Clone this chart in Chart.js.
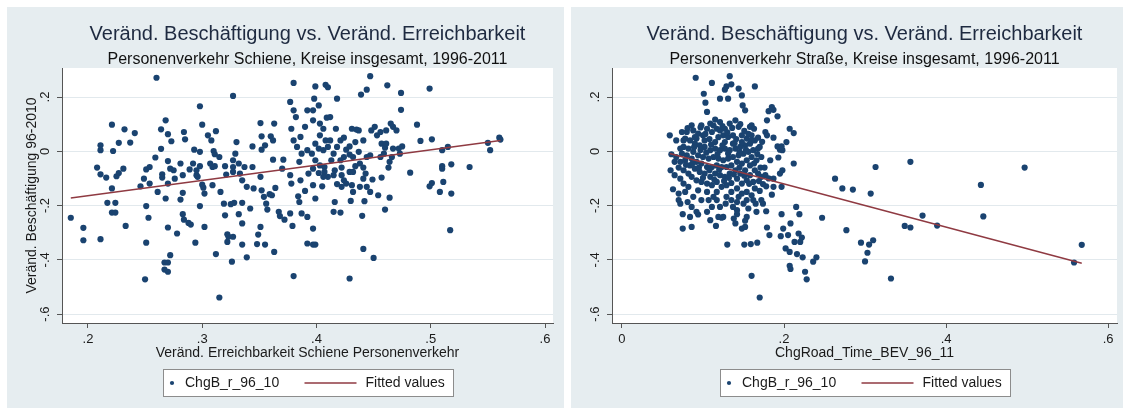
<!DOCTYPE html>
<html><head><meta charset="utf-8">
<script src="https://cdn.jsdelivr.net/npm/chart.js@4.4.1/dist/chart.umd.min.js"></script>
<style>
html,body{margin:0;padding:0;background:#fff;}
body{width:1123px;height:408px;position:relative;overflow:hidden;}
.panel{position:absolute;top:7px;height:401px;background:#e6edf0;}
#p1{left:7px;width:557px;}
#p2{left:571px;width:552px;}
canvas{display:block;}
</style></head><body>
<div class="panel" id="p1"><canvas id="c1" width="557" height="401"></canvas></div>
<div class="panel" id="p2"><canvas id="c2" width="552" height="401"></canvas></div>
<script>
const FONT = "'Liberation Sans', Arial, Helvetica, sans-serif";
const titleText = 'Veränd. Beschäftigung vs. Veränd. Erreichbarkeit';
const subtitleRail = 'Personenverkehr Schiene, Kreise insgesamt, 1996-2011';
const subtitleRoad = 'Personenverkehr Straße, Kreise insgesamt, 1996-2011';
const yTitle = 'Veränd. Beschäftigung 96-2010';
const xTitleRail = 'Veränd. Erreichbarkeit Schiene Personenverkehr';
const xTitleRoad = 'ChgRoad_Time_BEV_96_11';
const legendLabels = ['ChgB_r_96_10', 'Fitted values'];

const yTicks = [-0.6, -0.4, -0.2, 0, 0.2];
const yTickLabels = ['-.6', '-.4', '-.2', '0', '.2'];
const yRange = [-0.633, 0.307];
const xTicksRail = [0.2, 0.3, 0.4, 0.5, 0.6];
const xTickLabelsRail = ['.2', '.3', '.4', '.5', '.6'];
const xRangeRail = [0.1773, 0.607];
const xTicksRoad = [0, 0.2, 0.4, 0.6];
const xTickLabelsRoad = ['0', '.2', '.4', '.6'];
const xRangeRoad = [-0.0123, 0.611];

const railPoints = [
[0.185,-0.245],[0.196,-0.282],[0.196,-0.328],[0.211,-0.324],[0.208,-0.060],[0.211,-0.085],[0.211,0.022],[0.211,0.004],[0.216,-0.097],[0.221,0.098],
[0.222,0.001],[0.221,-0.137],[0.217,-0.190],[0.224,-0.190],[0.221,-0.226],[0.224,-0.226],[0.227,0.031],[0.225,-0.092],[0.227,-0.080],[0.231,-0.064],
[0.232,0.081],[0.237,0.032],[0.241,0.067],[0.233,-0.275],[0.246,-0.129],[0.249,-0.101],[0.251,-0.067],[0.254,-0.058],[0.254,-0.119],[0.251,-0.202],
[0.253,-0.245],[0.251,-0.337],[0.250,-0.472],[0.260,0.271],[0.259,-0.023],[0.261,-0.150],[0.264,0.009],[0.264,0.081],[0.268,0.114],[0.270,0.063],
[0.273,0.037],[0.265,-0.085],[0.265,-0.097],[0.270,-0.119],[0.270,-0.036],[0.272,-0.064],[0.268,-0.174],[0.270,-0.281],[0.278,-0.303],[0.272,-0.383],
[0.267,-0.410],[0.270,-0.410],[0.267,-0.436],[0.270,-0.444],[0.275,-0.070],[0.276,-0.101],[0.281,-0.045],[0.283,-0.088],[0.283,-0.153],[0.281,-0.178],
[0.283,-0.232],[0.284,-0.252],[0.284,0.071],[0.285,0.044],[0.288,-0.264],[0.290,-0.270],[0.294,-0.337],[0.289,-0.067],[0.293,0.006],[0.292,-0.045],
[0.295,-0.070],[0.295,-0.088],[0.296,-0.094],[0.298,-0.002],[0.298,-0.055],[0.300,0.098],[0.298,0.166],[0.298,-0.202],[0.301,-0.134],[0.302,-0.156],
[0.300,-0.123],[0.302,-0.279],[0.305,0.059],[0.308,0.040],[0.312,0.074],[0.310,0.001],[0.311,-0.011],[0.307,-0.045],[0.309,-0.058],[0.311,-0.055],
[0.309,-0.125],[0.312,-0.379],[0.315,-0.021],[0.315,-0.539],[0.316,-0.150],[0.319,-0.193],[0.321,-0.086],[0.320,-0.055],[0.320,-0.236],[0.322,-0.306],
[0.322,-0.334],[0.323,-0.315],[0.327,-0.315],[0.327,0.204],[0.327,-0.033],[0.327,-0.058],[0.327,-0.076],[0.329,-0.009],[0.330,0.034],[0.332,-0.045],
[0.325,-0.195],[0.326,-0.407],[0.328,-0.190],[0.335,-0.190],[0.332,-0.232],[0.333,-0.082],[0.335,-0.107],[0.337,-0.058],[0.339,-0.131],[0.335,-0.266],
[0.335,-0.344],[0.339,-0.391],[0.342,-0.211],[0.344,-0.058],[0.345,-0.137],[0.344,0.018],[0.348,-0.342],[0.349,-0.307],[0.351,-0.279],[0.351,-0.094],
[0.352,-0.144],[0.351,0.104],[0.352,0.055],[0.352,0.006],[0.355,0.022],[0.354,-0.168],[0.356,-0.193],[0.355,-0.344],[0.357,-0.215],[0.359,-0.158],
[0.361,-0.162],[0.363,0.102],[0.363,-0.371],[0.360,0.055],[0.362,0.040],[0.364,-0.135],[0.362,-0.031],[0.367,-0.223],[0.368,-0.239],[0.370,-0.064],
[0.371,-0.031],[0.372,-0.252],[0.377,-0.229],[0.379,-0.275],[0.377,0.182],[0.380,0.252],[0.380,-0.460],[0.377,-0.088],[0.378,-0.119],[0.380,0.151],
[0.382,0.126],[0.378,0.083],[0.380,0.040],[0.383,0.016],[0.386,0.053],[0.387,-0.009],[0.385,-0.039],[0.386,-0.107],[0.384,-0.166],[0.385,-0.187],
[0.387,-0.229],[0.390,-0.146],[0.392,-0.242],[0.392,0.151],[0.390,0.090],[0.392,0.004],[0.393,-0.082],[0.392,-0.340],
[0.447,0.277],[0.399,0.239],[0.408,0.245],[0.410,0.236],[0.398,0.194],[0.418,0.194],[0.402,0.169],[0.397,0.151],[0.439,0.209],[0.444,0.227],
[0.462,0.243],[0.474,0.215],[0.474,0.153],[0.499,0.231],[0.488,0.098],[0.491,0.038],[0.501,0.044],[0.397,0.114],[0.403,0.102],[0.406,0.083],
[0.409,0.124],[0.412,0.126],[0.417,0.083],[0.403,0.059],[0.408,0.040],[0.412,0.040],[0.399,0.028],[0.402,0.010],[0.406,0.004],[0.410,0.016],
[0.415,-0.009],[0.418,0.016],[0.421,0.040],[0.424,0.050],[0.426,0.006],[0.429,0.018],[0.431,0.083],[0.435,0.080],[0.437,0.077],[0.434,0.034],
[0.437,-0.002],[0.432,-0.021],[0.429,-0.012],[0.424,-0.021],[0.421,-0.033],[0.413,-0.033],[0.407,-0.058],[0.403,-0.052],[0.399,-0.033],[0.396,-0.009],
[0.397,-0.064],[0.402,-0.080],[0.407,-0.076],[0.410,-0.094],[0.415,-0.088],[0.416,-0.070],[0.422,-0.060],[0.422,-0.088],[0.424,-0.107],[0.422,-0.131],
[0.426,-0.119],[0.429,-0.076],[0.432,-0.076],[0.434,-0.055],[0.431,-0.125],[0.438,-0.045],[0.441,-0.060],[0.443,-0.082],[0.441,-0.101],[0.444,-0.131],
[0.447,-0.150],[0.449,-0.104],[0.441,0.040],[0.444,-0.021],[0.447,-0.015],[0.448,0.077],[0.451,0.090],[0.453,0.059],[0.456,0.071],[0.457,0.028],
[0.456,-0.021],[0.459,-0.009],[0.460,0.013],[0.461,0.028],[0.461,0.077],[0.465,0.102],[0.467,0.090],[0.470,0.077],[0.466,-0.021],[0.464,-0.039],
[0.463,-0.060],[0.457,-0.097],[0.454,-0.162],[0.464,-0.171],[0.460,-0.215],[0.467,0.010],[0.472,0.010],[0.475,0.018],[0.473,-0.009],[0.482,-0.079],
[0.510,0.004],[0.515,0.016],[0.510,-0.055],[0.510,-0.064],[0.518,-0.048],[0.534,-0.058],[0.501,-0.117],[0.499,-0.129],[0.511,-0.113],[0.508,-0.150],
[0.518,-0.156],[0.517,-0.291],[0.550,0.031],[0.560,0.050],[0.561,0.043],[0.552,0.004],[0.416,-0.187],[0.415,-0.223],[0.421,-0.226],[0.430,-0.183],
[0.442,-0.184],[0.440,-0.238],[0.397,-0.285],[0.397,-0.344],[0.399,-0.344],[0.441,-0.360],[0.450,-0.393],[0.429,-0.469],[0.397,-0.125],[0.399,-0.174],
[0.405,-0.129],[0.406,-0.094],[0.432,-0.150],[0.438,-0.131],[0.418,-0.121]
];
const railFit = [[0.185,-0.172],[0.561,0.040]];

const roadPoints = [
[0.091,0.271],[0.111,0.252],[0.133,0.277],[0.129,0.239],[0.127,0.227],[0.135,0.247],[0.144,0.231],[0.164,0.239],[0.101,0.212],[0.103,0.179],
[0.105,0.145],[0.121,0.194],[0.131,0.194],[0.148,0.206],[0.149,0.169],[0.152,0.151],[0.185,0.163],[0.187,0.153],[0.181,0.148],[0.192,0.129],
[0.179,0.114],[0.207,0.083],[0.212,0.067],[0.059,0.059],[0.061,-0.011],[0.060,-0.070],[0.063,-0.140],[0.070,-0.156],[0.072,-0.193],[0.075,-0.232],
[0.075,-0.285],[0.086,-0.279],[0.094,-0.233],[0.109,-0.254],[0.116,-0.275],[0.123,-0.245],[0.130,-0.344],[0.151,-0.344],[0.159,-0.342],[0.167,-0.337],
[0.160,-0.459],[0.170,-0.539],[0.148,-0.285],[0.152,-0.279],[0.179,-0.281],[0.182,-0.309],[0.197,-0.232],[0.199,-0.285],[0.196,-0.313],[0.205,-0.309],
[0.208,-0.266],[0.202,-0.358],[0.207,-0.371],[0.213,-0.334],[0.218,-0.303],[0.222,-0.318],[0.220,-0.334],[0.216,-0.379],[0.223,-0.391],[0.207,-0.422],
[0.208,-0.434],[0.226,-0.444],[0.228,-0.472],[0.236,-0.407],[0.240,-0.391],[0.215,-0.205],[0.219,-0.232],[0.247,-0.245],[0.277,-0.291],[0.263,-0.101],
[0.272,-0.137],
[0.197,-0.131],[0.195,-0.082],[0.198,-0.070],[0.193,-0.023],[0.195,0.006],[0.198,0.004],[0.203,0.034],[0.192,0.018],[0.212,-0.045],[0.185,-0.160],
[0.187,-0.131],[0.178,-0.129],[0.174,-0.121],[0.172,-0.094],[0.171,-0.060],[0.178,-0.221],[0.174,-0.193],[0.172,-0.180],[0.166,-0.223],[0.165,-0.193],
[0.162,-0.180],[0.156,-0.211],[0.154,-0.242],[0.152,-0.256],[0.142,-0.232],[0.138,-0.248],[0.140,-0.266],[0.142,-0.217],[0.137,-0.205],[0.142,-0.187],
[0.150,-0.193],[0.128,-0.193],[0.125,-0.242],[0.119,-0.242],[0.121,-0.205],[0.111,-0.205],[0.107,-0.180],[0.098,-0.180],[0.088,-0.168],[0.081,-0.187],
[0.078,-0.150],[0.082,-0.131],[0.076,-0.119],[0.072,-0.101],[0.065,-0.088],
[0.094,-0.144],[0.105,-0.150],[0.113,-0.168],[0.117,-0.150],[0.129,-0.168],[0.135,-0.150],[0.142,-0.137],[0.148,-0.156],[0.154,-0.150],[0.160,-0.162],
[0.164,-0.137],[0.162,-0.113],[0.168,-0.082],[0.164,-0.070],[0.158,-0.088],[0.154,-0.107],[0.148,-0.119],[0.142,-0.101],[0.135,-0.117],[0.129,-0.125],
[0.123,-0.131],[0.117,-0.113],[0.111,-0.125],[0.105,-0.119],[0.098,-0.113],[0.092,-0.107],[0.086,-0.094],[0.082,-0.082],[0.076,-0.070],[0.070,-0.060],
[0.072,-0.039],[0.078,-0.033],[0.084,-0.052],[0.090,-0.064],[0.096,-0.076],[0.102,-0.082],[0.109,-0.094],[0.115,-0.082],[0.121,-0.088],[0.127,-0.094],
[0.133,-0.082],[0.140,-0.070],[0.146,-0.082],[0.152,-0.070],[0.158,-0.052],[0.154,-0.033],[0.148,-0.045],[0.142,-0.039],[0.135,-0.052],[0.129,-0.058],
[0.123,-0.058],[0.117,-0.052],[0.111,-0.058],[0.105,-0.058],[0.098,-0.045],[0.092,-0.039],[0.086,-0.027],[0.080,-0.015],[0.074,-0.009],[0.067,-0.021],
[0.076,0.016],[0.082,0.010],[0.088,-0.002],[0.094,-0.015],[0.100,-0.021],[0.107,-0.027],[0.113,-0.021],[0.119,-0.027],[0.125,-0.033],[0.131,-0.027],
[0.137,-0.021],[0.144,-0.015],[0.150,-0.009],[0.156,-0.002],[0.162,0.004],[0.168,0.010],[0.172,-0.021],[0.166,-0.033],[0.160,-0.021],[0.158,0.028],
[0.152,0.022],[0.146,0.016],[0.140,0.010],[0.133,0.004],[0.127,0.010],[0.121,0.004],[0.115,0.010],[0.109,0.004],[0.102,0.016],[0.096,0.022],
[0.090,0.028],[0.084,0.040],[0.078,0.047],[0.074,0.071],[0.080,0.071],[0.086,0.096],[0.088,0.077],[0.094,0.065],[0.100,0.059],[0.105,0.083],
[0.111,0.071],[0.117,0.083],[0.115,0.117],[0.121,0.077],[0.125,0.059],[0.131,0.053],[0.137,0.059],[0.133,0.102],[0.140,0.114],[0.144,0.090],
[0.148,0.059],[0.154,0.047],[0.160,0.059],[0.158,0.090],[0.160,0.096],[0.164,0.040],[0.170,0.016],[0.177,0.071],[0.179,0.059],[0.187,0.050],
[0.197,0.018],[0.098,0.096],[0.109,0.102],[0.121,0.108],[0.127,0.083],[0.092,0.047],[0.067,0.040],[0.072,0.010],[0.065,-0.039],[0.076,0.040],
[0.137,0.028],[0.115,0.034],[0.102,0.040],[0.127,0.034],[0.148,0.034],[0.183,-0.033],[0.187,-0.101],[0.177,-0.088],[0.170,-0.146],[0.154,-0.180],
[0.144,-0.168],[0.135,-0.180],[0.117,-0.180],[0.086,-0.205],[0.092,-0.223],[0.084,-0.242],[0.105,-0.223],[0.070,-0.180],
[0.081,0.085],[0.090,0.052],[0.097,0.088],[0.103,0.064],[0.108,0.045],[0.113,0.095],[0.119,0.052],[0.124,0.093],[0.130,0.070],[0.136,0.086],
[0.141,0.045],[0.146,0.100],[0.151,0.075],[0.156,0.064],[0.163,0.083],[0.168,0.050],[0.173,0.035],[0.079,-0.050],[0.087,-0.045],[0.095,-0.060],
[0.100,-0.098],[0.108,-0.070],[0.114,-0.105],[0.120,-0.068],[0.126,-0.110],[0.132,-0.098],[0.138,-0.085],[0.145,-0.060],[0.151,-0.090],[0.157,-0.120],
[0.163,-0.045],[0.169,-0.110],[0.176,-0.060],[0.181,-0.100],[0.089,0.015],[0.097,0.005],[0.104,-0.005],[0.110,0.025],[0.118,-0.010],[0.124,0.022],
[0.131,-0.008],[0.139,0.030],[0.145,-0.003],[0.153,0.005],[0.160,0.040],[0.167,-0.010],
[0.285,-0.141],[0.307,-0.156],[0.313,-0.058],[0.295,-0.337],[0.305,-0.344],[0.310,-0.328],[0.303,-0.374],[0.300,-0.406],[0.332,-0.469],[0.356,-0.039],
[0.371,-0.237],[0.349,-0.275],[0.356,-0.281],[0.389,-0.274],[0.443,-0.124],[0.446,-0.240],[0.497,-0.060],[0.558,-0.410],[0.5675,-0.345]
];
const roadFit = [[0.059,-0.008],[0.5675,-0.413]];

const MARKER = '#1a4370';
const FITCOL = '#8f3a42';
const AXIS = '#555555';
const GRID = '#e2e9ed';
const TXT = '#1a1a1a';

const stataDecor = {
  id: 'stataDecor',
  beforeDraw(chart) {
    const {ctx, chartArea: a} = chart;
    ctx.save();
    ctx.fillStyle = '#ffffff';
    ctx.fillRect(a.left, a.top, a.right - a.left, a.bottom - a.top);
    ctx.restore();
  },
  afterDraw(chart, args, o) {
    const {ctx, chartArea: a} = chart;
    const cx = (a.left + a.right) / 2;
    ctx.save();
    ctx.textAlign = 'center';
    ctx.textBaseline = 'alphabetic';
    ctx.fillStyle = '#1e2a40';
    ctx.font = '20px ' + FONT;
    ctx.fillText(o.title, cx, o.titleY);
    ctx.fillStyle = '#111111';
    ctx.font = '16px ' + FONT;
    ctx.fillText(o.subtitle, cx, o.subtitleY);
    const W = 290, H = 27;
    const L = Math.round(cx - W / 2) + 0.5, T = o.legendY + 0.5;
    ctx.fillStyle = '#ffffff';
    ctx.fillRect(L, T, W, H);
    ctx.strokeStyle = '#8c8c8c';
    ctx.lineWidth = 1;
    ctx.strokeRect(L, T, W, H);
    const my = T + H / 2;
    ctx.fillStyle = chart.data.datasets[0].backgroundColor;
    ctx.beginPath(); ctx.arc(L + 8.5, my, 2.1, 0, Math.PI * 2); ctx.fill();
    ctx.strokeStyle = chart.data.datasets[1].borderColor;
    ctx.lineWidth = 1.5;
    ctx.beginPath(); ctx.moveTo(L + 141, my); ctx.lineTo(L + 193, my); ctx.stroke();
    ctx.fillStyle = TXT;
    ctx.font = '14px ' + FONT;
    ctx.textAlign = 'left';
    ctx.textBaseline = 'middle';
    ctx.fillText(chart.data.datasets[0].label, L + 21.5, my + 0.5);
    ctx.fillText(chart.data.datasets[1].label, L + 202, my + 0.5);
    ctx.restore();
  }
};

function makeChart(id, pts, fit, xRange, xTicks, xLabels, xTitle, subtitle, showYTitle, yWidth, padRight) {
  const ctx = document.getElementById(id);
  return new Chart(ctx, {
    type: 'scatter',
    data: {
      datasets: [
        {
          label: legendLabels[0],
          data: pts.map(p => ({x: p[0], y: p[1]})),
          backgroundColor: MARKER,
          borderColor: MARKER,
          pointRadius: 3.1,
          pointBorderWidth: 0,
          pointHoverRadius: 3.1,
          order: 2
        },
        {
          label: legendLabels[1],
          data: fit.map(p => ({x: p[0], y: p[1]})),
          showLine: true,
          borderColor: FITCOL,
          backgroundColor: FITCOL,
          borderWidth: 1.5,
          pointRadius: 0,
          order: 1
        }
      ]
    },
    options: {
      responsive: false,
      animation: false,
      events: [],
      layout: {padding: {top: 61, right: padRight, bottom: 45, left: 0}},
      plugins: {
        legend: {display: false},
        tooltip: {enabled: false},
        stataDecor: {title: titleText, subtitle: subtitle, titleY: 33, subtitleY: 57, legendY: 362}
      },
      scales: {
        x: {
          type: 'linear',
          min: xRange[0], max: xRange[1],
          afterBuildTicks: s => { s.ticks = xTicks.map(v => ({value: v})); },
          afterFit: s => { s.height = 40; },
          ticks: {
            callback: (v, i) => xLabels[i],
            autoSkip: false, maxRotation: 0, minRotation: 0,
            padding: 4,
            color: TXT,
            font: {family: FONT, size: 13}
          },
          grid: {drawOnChartArea: false, drawTicks: true, tickLength: 5, tickColor: AXIS, tickWidth: 1},
          border: {display: true, color: AXIS, width: 1},
          title: {display: true, text: xTitle, color: TXT, font: {family: FONT, size: 14}, padding: {top: 0, bottom: 1}}
        },
        y: {
          type: 'linear',
          min: yRange[0], max: yRange[1],
          afterBuildTicks: s => { s.ticks = yTicks.map(v => ({value: v})); },
          afterFit: s => { s.width = yWidth; },
          ticks: {
            callback: (v, i) => yTickLabels[i],
            autoSkip: false, minRotation: 90, maxRotation: 90,
            crossAlign: 'center',
            padding: 4,
            color: TXT,
            font: {family: FONT, size: 13}
          },
          grid: {color: GRID, lineWidth: 1, drawTicks: true, tickLength: 5, tickColor: AXIS, tickWidth: 1},
          border: {display: true, color: AXIS, width: 1},
          title: {display: showYTitle, text: yTitle, color: TXT, font: {family: FONT, size: 14}, padding: {top: 17, bottom: 0}}
        }
      }
    },
    plugins: [stataDecor]
  });
}

makeChart('c1', railPoints, railFit, xRangeRail, xTicksRail, xTickLabelsRail, xTitleRail, subtitleRail, true, 55, 11);
makeChart('c2', roadPoints, roadFit, xRangeRoad, xTicksRoad, xTickLabelsRoad, xTitleRoad, subtitleRoad, false, 41, 6);
</script>
</body></html>
